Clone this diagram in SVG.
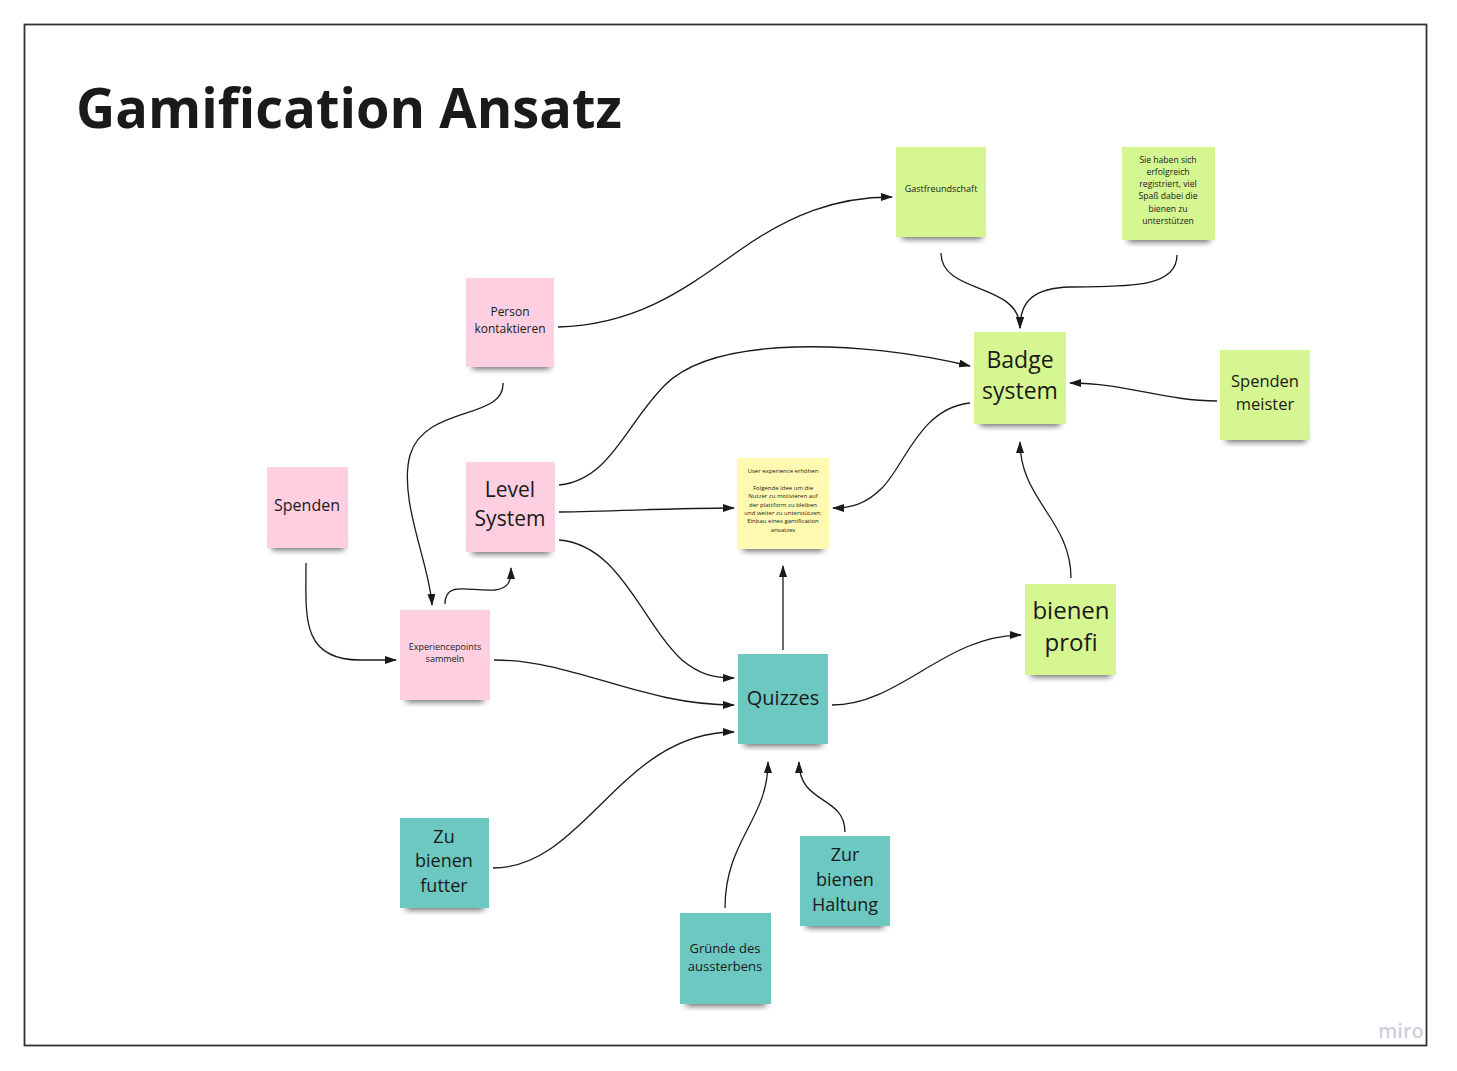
<svg xmlns="http://www.w3.org/2000/svg" width="1457" height="1071" viewBox="0 0 1457 1071">
<defs>
<style>
.t{font-family:"Open Sans","Noto Sans","DejaVu Sans",sans-serif;fill:#1a1a1a;text-anchor:middle}
.pink{fill:#fecfe0}
.green{fill:#d6f692}
.teal{fill:#6cc8c0}
.yellow{fill:#fff9b1}
.sh{fill:#000;opacity:0.6;filter:url(#blur)}
.c{fill:none;stroke:#1a1a1a;stroke-width:1.3;marker-end:url(#arr)}
</style>
<filter id="blur" x="-20%" y="-50%" width="140%" height="200%"><feGaussianBlur stdDeviation="3"/></filter>
<marker id="arr" viewBox="0 0 12 8" refX="11" refY="4" markerWidth="12" markerHeight="8" markerUnits="userSpaceOnUse" orient="auto"><path d="M0,0 L12,4 L0,8 Z" fill="#1a1a1a"/></marker>
</defs>
<rect width="1457" height="1071" fill="#fff"/>
<rect x="24.5" y="24.5" width="1402" height="1021" fill="#fff" stroke="#333" stroke-width="1.8"/>
<text x="76" y="128" font-family="'Open Sans','Noto Sans',sans-serif" font-weight="bold" font-size="55" fill="#1a1a1a" textLength="546" lengthAdjust="spacingAndGlyphs">Gamification Ansatz</text>
<text x="1401" y="1038" font-family="'Open Sans','Noto Sans',sans-serif" font-size="20" font-weight="600" fill="#cfcfdc" text-anchor="middle">miro</text>

<g id="connectors">
<path class="c" d="M558,327 C640,325 690,285 740,250 C790,215 835,197 892,197"/>
<path class="c" d="M941,253 C941,295 1020,282 1020,328"/>
<path class="c" d="M1177,255 C1177,290 1120,286 1070,287 C1035,288 1020,300 1020,328"/>
<path class="c" d="M1217,401 C1165,401 1125,383 1070,383"/>
<path class="c" d="M559,485 C610,480 625,425 665,385 C715,335 860,340 970,366"/>
<path class="c" d="M970,403 C920,408 905,465 882,488 C865,505 850,508 833,508"/>
<path class="c" d="M559,512 C620,511 680,508 734,508"/>
<path class="c" d="M559,540 C620,545 640,620 682,660 C700,675 715,678 734,678"/>
<path class="c" d="M503,383 C505,420 425,405 410,455 C398,500 430,565 432,605"/>
<path class="c" d="M445,604 C445,580 470,592 495,590 C510,588 511,580 511,568"/>
<path class="c" d="M306,563 C306,615 300,660 360,660 L396,660"/>
<path class="c" d="M494,660 C575,660 640,705 734,705"/>
<path class="c" d="M783,650 L783,566"/>
<path class="c" d="M832,705 C900,705 945,635 1021,635"/>
<path class="c" d="M1071,578 C1071,520 1020,500 1020,442"/>
<path class="c" d="M493,868 C585,868 620,732 734,732"/>
<path class="c" d="M725,908 C725,840 768,820 768,762"/>
<path class="c" d="M845,832 C845,795 799,805 799,762"/>
</g>

<g id="gastfreundschaft">
<rect class="sh" x="902" y="229" width="80" height="10"/>
<rect class="green" x="896" y="147" width="90" height="90"/>
<text class="t" x="941" y="192" font-size="9">Gastfreundschaft</text>
</g>
<g id="registriert">
<rect class="sh" x="1128" y="232" width="82" height="10"/>
<rect class="green" x="1122" y="147" width="93" height="93"/>
<text class="t" font-size="8.6"><tspan x="1168" y="163">Sie haben sich</tspan><tspan x="1168" y="175">erfolgreich</tspan><tspan x="1168" y="187">registriert, viel</tspan><tspan x="1168" y="199">Spaß dabei die</tspan><tspan x="1168" y="212">bienen zu</tspan><tspan x="1168" y="224">unterstützen</tspan></text>
</g>
<g id="person">
<rect class="sh" x="472" y="359" width="78" height="10"/>
<rect class="pink" x="466" y="278" width="88" height="89"/>
<text class="t" font-size="12"><tspan x="510" y="316">Person</tspan><tspan x="510" y="333">kontaktieren</tspan></text>
</g>
<g id="badge">
<rect class="sh" x="980" y="416" width="80" height="10"/>
<rect class="green" x="974" y="332" width="92" height="92"/>
<text class="t" font-size="23"><tspan x="1020" y="368">Badge</tspan><tspan x="1020" y="399">system</tspan></text>
</g>
<g id="spendenmeister">
<rect class="sh" x="1226" y="432" width="80" height="10"/>
<rect class="green" x="1220" y="350" width="90" height="90"/>
<text class="t" font-size="16.5"><tspan x="1265" y="387">Spenden</tspan><tspan x="1265" y="410">meister</tspan></text>
</g>
<g id="spenden">
<rect class="sh" x="272" y="540" width="72" height="10"/>
<rect class="pink" x="267" y="467" width="81" height="81"/>
<text class="t" x="307" y="511" font-size="16">Spenden</text>
</g>
<g id="level">
<rect class="sh" x="472" y="544" width="78" height="10"/>
<rect class="pink" x="466" y="462" width="89" height="90"/>
<text class="t" font-size="21"><tspan x="510" y="497">Level</tspan><tspan x="510" y="526">System</tspan></text>
</g>
<g id="userexp">
<rect class="sh" x="743" y="541" width="80" height="10"/>
<rect class="yellow" x="737" y="458" width="92" height="91"/>
<text class="t" font-size="6"><tspan x="783" y="473">User experience erhöhen</tspan><tspan x="783" y="490">Folgende Idee um die</tspan><tspan x="783" y="498">Nutzer zu motivieren auf</tspan><tspan x="783" y="507">der plattform zu bleiben</tspan><tspan x="783" y="515">und weiter zu unterstützen:</tspan><tspan x="783" y="523">Einbau eines gamification</tspan><tspan x="783" y="532">ansatzes</tspan></text>
</g>
<g id="experiencepoints">
<rect class="sh" x="406" y="692" width="78" height="10"/>
<rect class="pink" x="400" y="610" width="90" height="90"/>
<text class="t" font-size="9"><tspan x="445" y="650">Experiencepoints</tspan><tspan x="445" y="662">sammeln</tspan></text>
</g>
<g id="bienenprofi">
<rect class="sh" x="1031" y="667" width="80" height="10"/>
<rect class="green" x="1025" y="584" width="91" height="91"/>
<text class="t" font-size="24"><tspan x="1071" y="619">bienen</tspan><tspan x="1071" y="651">profi</tspan></text>
</g>
<g id="quizzes">
<rect class="sh" x="744" y="736" width="78" height="10"/>
<rect class="teal" x="738" y="654" width="90" height="90"/>
<text class="t" x="783" y="705" font-size="20">Quizzes</text>
</g>
<g id="futter">
<rect class="sh" x="406" y="900" width="78" height="10"/>
<rect class="teal" x="400" y="818" width="89" height="90"/>
<text class="t" font-size="18"><tspan x="444" y="843">Zu</tspan><tspan x="444" y="867">bienen</tspan><tspan x="444" y="892">futter</tspan></text>
</g>
<g id="haltung">
<rect class="sh" x="806" y="918" width="78" height="10"/>
<rect class="teal" x="800" y="836" width="90" height="90"/>
<text class="t" font-size="18"><tspan x="845" y="861">Zur</tspan><tspan x="845" y="886">bienen</tspan><tspan x="845" y="911">Haltung</tspan></text>
</g>
<g id="gruende">
<rect class="sh" x="686" y="996" width="80" height="10"/>
<rect class="teal" x="680" y="913" width="91" height="91"/>
<text class="t" font-size="13"><tspan x="725" y="953">Gründe des</tspan><tspan x="725" y="971">aussterbens</tspan></text>
</g>
</svg>
